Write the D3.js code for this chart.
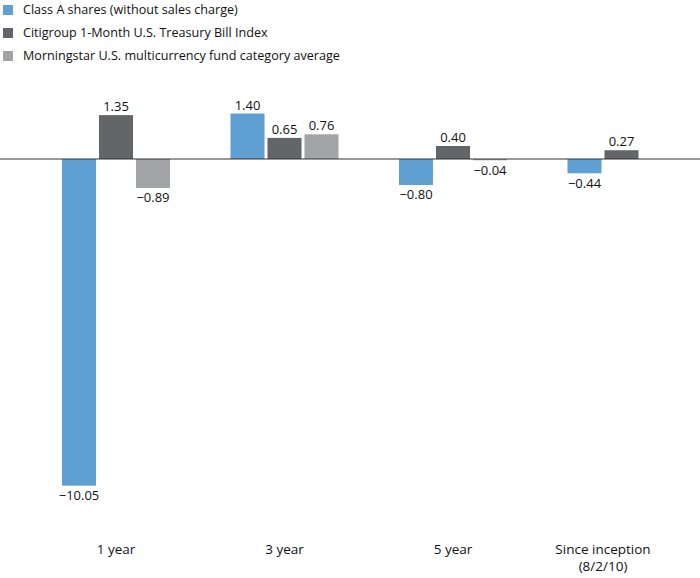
<!DOCTYPE html>
<html><head><meta charset="utf-8">
<script src="https://cdn.jsdelivr.net/npm/d3@7"></script>
<style>body{margin:0;background:#fff}svg{display:block}text{font-family:"Open Sans",sans-serif;fill:#111}</style>
</head><body><svg id="c" width="700" height="578"></svg>
<script>
const categories = ["1 year", "3 year", "5 year", "Since inception\n(8/2/10)"];
const seriesNames = ["Class A shares (without sales charge)", "Citigroup 1-Month U.S. Treasury Bill Index", "Morningstar U.S. multicurrency fund category average"];
const seriesColors = ["#5f9fd2", "#646569", "#a2a3a6"];
const classA = [-10.05, 1.40, -0.80, -0.44];
const citi = [1.35, 0.65, 0.40, 0.27];
const morningstar = [-0.89, 0.76, -0.04, null];
const series = [classA, citi, morningstar];

const svg = d3.select("#c");
const x = d3.scaleBand().domain(categories).range([31.75, 705.75]);
const xs = d3.scaleBand().domain([0,1,2]).range([-54, 54]).paddingInner(0.08);
const y = d3.scaleLinear().domain([-11, 2]).range([159 + 11*32.5, 159 - 2*32.5]);
const fmt = v => (v < 0 ? "\u2212" : "") + Math.abs(v).toFixed(2);

// legend
const lg = svg.append("g");
seriesNames.forEach((n, i) => {
  const yy = 10 + i*23;
  lg.append("rect").attr("x", 3).attr("y", yy - 5).attr("width", 10).attr("height", 10).attr("fill", seriesColors[i]);
  lg.append("text").attr("x", 23).attr("y", yy).attr("dy", "0.35em").attr("font-size", 12.6).text(n);
});

// bars
categories.forEach((c, ci) => {
  const cx = x(c) + x.bandwidth()/2;
  series.forEach((s, si) => {
    const v = s[ci];
    if (v == null) return;
    const bx = cx + xs(si);
    svg.append("rect").attr("x", bx).attr("width", xs.bandwidth())
      .attr("y", Math.min(y(v), y(0))).attr("height", Math.max(Math.abs(y(v) - y(0)), 1))
      .attr("fill", seriesColors[si]);
    svg.append("text").attr("x", bx + xs.bandwidth()/2)
      .attr("y", v >= 0 ? y(v) - 4 : y(v) + 4)
      .attr("dy", v >= 0 ? "0" : "0.8em")
      .attr("text-anchor", "middle").attr("font-size", 13).text(fmt(v));
  });
});

// zero line
svg.append("line").attr("x1", 0).attr("x2", 700).attr("y1", y(0)).attr("y2", y(0)).attr("stroke", "#333").attr("stroke-width", 1);

// category labels
categories.forEach((c, ci) => {
  const present = series.map((s, si) => s[ci] != null ? si : null).filter(d => d != null);
  const cx = x(c) + x.bandwidth()/2 + (xs(present[0]) + xs(present[present.length-1]) + xs.bandwidth())/2;
  const lines = c.split("\n");
  const t = svg.append("text").attr("text-anchor", "middle").attr("font-size", 13.5);
  lines.forEach((l, li) => t.append("tspan").attr("x", cx).attr("y", 554 + li*17).text(l));
});
</script></body></html>
